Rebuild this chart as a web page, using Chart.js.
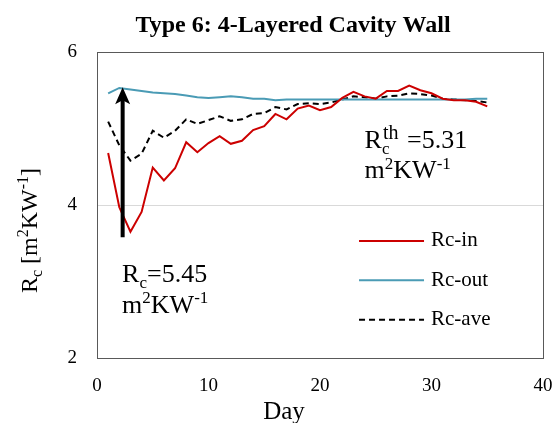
<!DOCTYPE html>
<html>
<head>
<meta charset="utf-8">
<script src="https://cdn.jsdelivr.net/npm/chart.js@4"></script>
<style>
  html, body { margin: 0; padding: 0; background: #fff; }
  #wrap { width: 555px; height: 423px; }
</style>
</head>
<body>
<div id="wrap"><canvas id="rcChart" width="555" height="423"></canvas></div>
<script>
const days = [1, 2, 3, 4, 5, 6, 7, 8, 9, 10, 11, 12, 13, 14, 15, 16, 17, 18,
              19, 20, 21, 22, 23, 24, 25, 26, 27, 28, 29, 30, 31, 32, 33, 34, 35];
const rcIn = [4.68, 3.97, 3.65, 3.91, 4.49, 4.32, 4.48, 4.82, 4.69, 4.81, 4.90, 4.80,
              4.84, 4.98, 5.03, 5.19, 5.12, 5.26, 5.30, 5.24, 5.28, 5.40, 5.48, 5.42,
              5.39, 5.49, 5.49, 5.56, 5.50, 5.46, 5.39, 5.37, 5.37, 5.35, 5.29];
const rcOut = [5.46, 5.53, 5.51, 5.49, 5.47, 5.46, 5.45, 5.43, 5.41, 5.40, 5.41, 5.42,
               5.41, 5.39, 5.39, 5.37, 5.38, 5.38, 5.38, 5.38, 5.38, 5.38, 5.38, 5.38,
               5.38, 5.38, 5.38, 5.38, 5.38, 5.38, 5.38, 5.38, 5.38, 5.39, 5.39];
const rcAve = [5.09, 4.78, 4.58, 4.67, 4.97, 4.88, 4.97, 5.12, 5.06, 5.11, 5.16, 5.10,
               5.12, 5.19, 5.20, 5.28, 5.25, 5.32, 5.33, 5.32, 5.34, 5.38, 5.42, 5.41,
               5.39, 5.42, 5.43, 5.46, 5.45, 5.43, 5.39, 5.38, 5.37, 5.36, 5.34];
const seriesNames = ['Rc-in', 'Rc-out', 'Rc-ave'];
const xTicks = [0, 10, 20, 30, 40];
const yTicks = [2, 4, 6];

// arrow and notes, in data units
const arrowDay = 2.3, arrowFrom = 3.58, arrowTo = 5.54;
const noteMeasured = { day: 2.25, y: 2.99, value: '5.45' };
const noteTheory = { day: 24.0, y: 4.74, value: '5.31' };

const serif = '"Liberation Serif", "Times New Roman", serif';

// draws R with a subscript c (and optional superscript), returns x after it
function drawRc(ctx, x, y, size, sup) {
    ctx.font = size + 'px ' + serif;
    ctx.fillText('R', x, y);
    x += ctx.measureText('R').width;
    const small = Math.round(size * 0.65);
    ctx.font = small + 'px ' + serif;
    ctx.fillText('c', x, y + size * 0.22);
    let w = ctx.measureText('c').width;
    if (sup) {
        ctx.font = Math.round(size * 0.75) + 'px ' + serif;
        ctx.fillText(sup, x + 1, y - size * 0.36);
        w = Math.max(w, ctx.measureText(sup).width + 1);
    }
    return x + w;
}

// m²KW⁻¹ with real superscripts
function drawUnit(ctx, x, y, size) {
    const small = Math.round(size * 0.65);
    const parts = [['m', 0], ['2', 1], ['KW', 0], ['-1', 1]];
    parts.forEach(p => {
        ctx.font = (p[1] ? small : size) + 'px ' + serif;
        ctx.fillText(p[0], x, y - (p[1] ? size * 0.38 : 0));
        x += ctx.measureText(p[0]).width;
    });
    return x;
}

const decorations = {
    id: 'decorations',
    beforeDatasetsDraw(chart) {
        const { ctx, chartArea: a } = chart;
        ctx.save();
        ctx.strokeStyle = '#595959';
        ctx.lineWidth = 1;
        ctx.strokeRect(a.left + 0.5, a.top + 0.5, a.right - a.left, a.bottom - a.top);
        ctx.restore();
    },
    afterDraw(chart) {
        const { ctx, scales } = chart;
        const xs = scales.x, ys = scales.y;
        ctx.save();
        ctx.fillStyle = '#000';
        ctx.textBaseline = 'alphabetic';

        // title
        ctx.font = 'bold 24px ' + serif;
        ctx.textAlign = 'center';
        ctx.fillText('Type 6: 4-Layered Cavity Wall', 293, 32);

        // x axis title (sits left of the plot centre in the original)
        ctx.font = '25px ' + serif;
        ctx.fillText('Day', 284, 419);
        ctx.textAlign = 'left';

        // y axis title, rotated
        ctx.save();
        ctx.translate(37, 293);
        ctx.rotate(-Math.PI / 2);
        let tx = 0;
        tx = drawRc(ctx, tx, 0, 24);
        ctx.font = '24px ' + serif;
        ctx.fillText(' [', tx, 0);
        tx += ctx.measureText(' [').width;
        tx = drawUnit(ctx, tx, 0, 24);
        ctx.font = '24px ' + serif;
        ctx.fillText(']', tx, 0);
        ctx.restore();

        // arrow
        const ax = xs.getPixelForValue(arrowDay);
        const y0 = ys.getPixelForValue(arrowFrom);
        const y1 = ys.getPixelForValue(arrowTo);
        ctx.strokeStyle = '#000';
        ctx.lineWidth = 4;
        ctx.beginPath();
        ctx.moveTo(ax, y0);
        ctx.lineTo(ax, y1 + 12);
        ctx.stroke();
        ctx.beginPath();
        ctx.moveTo(ax, y1);
        ctx.lineTo(ax - 7.5, y1 + 17);
        ctx.lineTo(ax, y1 + 13);
        ctx.lineTo(ax + 7.5, y1 + 17);
        ctx.closePath();
        ctx.fill();

        // notes
        let nx = xs.getPixelForValue(noteMeasured.day);
        let ny = ys.getPixelForValue(noteMeasured.y);
        let e = drawRc(ctx, nx, ny, 26);
        ctx.font = '26px ' + serif;
        ctx.fillText('=' + noteMeasured.value, e, ny);
        drawUnit(ctx, nx, ny + 31, 26);

        nx = xs.getPixelForValue(noteTheory.day);
        ny = ys.getPixelForValue(noteTheory.y);
        e = drawRc(ctx, nx, ny, 26, 'th');
        ctx.font = '26px ' + serif;
        ctx.fillText(' =' + noteTheory.value, e + 2, ny);
        drawUnit(ctx, nx, ny + 30, 26);

        // legend
        const lx = xs.getPixelForValue(23.5);
        chart.data.datasets.forEach((ds, i) => {
            const ly = ys.getPixelForValue(3.53 - i * 0.515);
            ctx.strokeStyle = ds.borderColor;
            ctx.lineWidth = ds.borderWidth;
            ctx.setLineDash(ds.borderDash || []);
            ctx.beginPath();
            ctx.moveTo(lx, ly);
            ctx.lineTo(lx + 65, ly);
            ctx.stroke();
            ctx.setLineDash([]);
            ctx.font = '21px ' + serif;
            ctx.textBaseline = 'middle';
            ctx.fillText(ds.label, lx + 72, ly);
        });
        ctx.restore();
    }
};

const ctx = document.getElementById('rcChart').getContext('2d');
const chart = new Chart(ctx, {
    type: 'line',
    data: {
        labels: days,
        datasets: [{
            label: seriesNames[0],
            data: rcIn,
            borderColor: '#CC0000',
            borderWidth: 2,
            pointRadius: 0,
            tension: 0
        }, {
            label: seriesNames[1],
            data: rcOut,
            borderColor: '#4A9BB5',
            borderWidth: 2,
            pointRadius: 0,
            tension: 0
        }, {
            label: seriesNames[2],
            data: rcAve,
            borderColor: '#000000',
            borderWidth: 2,
            borderDash: [6, 4],
            pointRadius: 0,
            tension: 0
        }]
    },
    options: {
        responsive: false,
        animation: false,
        layout: {
            padding: { top: 52, right: 0, bottom: 0, left: 0 }
        },
        plugins: {
            legend: { display: false },
            tooltip: { enabled: false }
        },
        scales: {
            x: {
                type: 'linear',
                min: 0,
                max: 40,
                afterBuildTicks: s => { s.ticks = xTicks.map(v => ({ value: v })); },
                afterFit: s => { s.height = 65; s.paddingRight = 12; s.paddingLeft = 0; },
                ticks: {
                    font: { family: serif, size: 19 },
                    color: '#000',
                    padding: 17
                },
                grid: { display: false, drawTicks: false },
                border: { display: false }
            },
            y: {
                min: 2,
                max: 6,
                afterBuildTicks: s => { s.ticks = yTicks.map(v => ({ value: v })); },
                afterFit: s => { s.width = 97; },
                ticks: {
                    font: { family: serif, size: 19 },
                    color: '#000',
                    padding: 20
                },
                grid: {
                    drawTicks: false,
                    color: c => (c.tick && c.tick.value === 4 ? '#D9D9D9' : 'rgba(0,0,0,0)')
                },
                border: { display: false }
            }
        }
    },
    plugins: [decorations]
});
</script>
</body>
</html>
